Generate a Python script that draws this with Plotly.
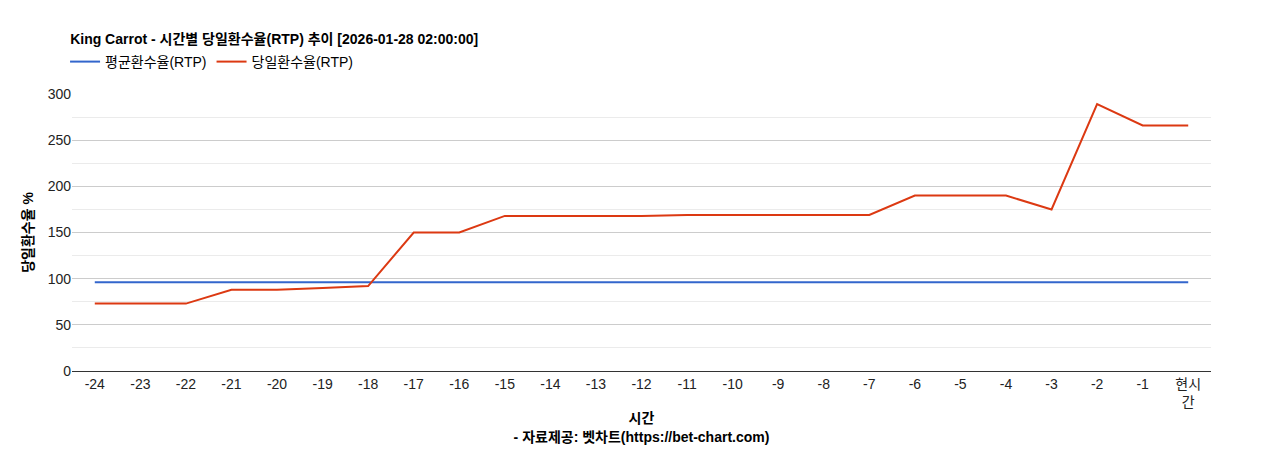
import plotly.graph_objects as go

hours = [str(h) for h in range(-24, 0)] + ["현시<br>간"]
avg_rtp = [96] * 25
day_rtp = [73, 73, 73, 88, 88, 90, 92, 150, 150, 168, 168, 168, 168, 169,
           169, 169, 169, 169, 190, 190, 190, 175, 289, 266, 266]

fig = go.Figure()
fig.add_trace(go.Scatter(x=hours, y=avg_rtp, mode="lines", name="평균환수율(RTP)",
                         line=dict(color="#3366cc", width=2)))
fig.add_trace(go.Scatter(x=hours, y=day_rtp, mode="lines", name="당일환수율(RTP)",
                         line=dict(color="#dc3912", width=2)))

fig.update_layout(
    width=1268, height=450,
    paper_bgcolor="white", plot_bgcolor="white",
    font=dict(family="Liberation Sans, Noto Sans CJK KR", size=14, color="#222"),
    title=dict(text="<b>King Carrot - 시간별 당일환수율(RTP) 추이 [2026-01-28 02:00:00]</b>",
               x=0.049, xref="container", y=0.93, yref="container", yanchor="middle",
               font=dict(size=14, color="black")),
    margin=dict(l=64, r=65, t=86, b=87, autoexpand=False),
    legend=dict(orientation="h", xref="container", yref="container",
                x=0.045, y=0.88, yanchor="middle",
                font=dict(size=14, color="black"), traceorder="normal"),
    showlegend=True,
)
fig.update_xaxes(type="category", range=[-0.5, 24.5], showgrid=False, showline=True,
                 linecolor="#333", ticks="", tickfont=dict(size=14),
                 title=dict(text="<b>시간</b><br><b>- 자료제공: 벳차트(https://bet-chart.com)</b>",
                            font=dict(size=14, color="black"), standoff=4))
fig.update_yaxes(range=[0, 300], dtick=50, gridcolor="#cccccc", zeroline=False,
                 minor=dict(dtick=25, showgrid=True, gridcolor="#ebebeb"),
                 tickfont=dict(size=14),
                 title=dict(text="<b>당일환수율 %</b>", font=dict(size=14, color="black"), standoff=10))

fig.write_html("out.html")
